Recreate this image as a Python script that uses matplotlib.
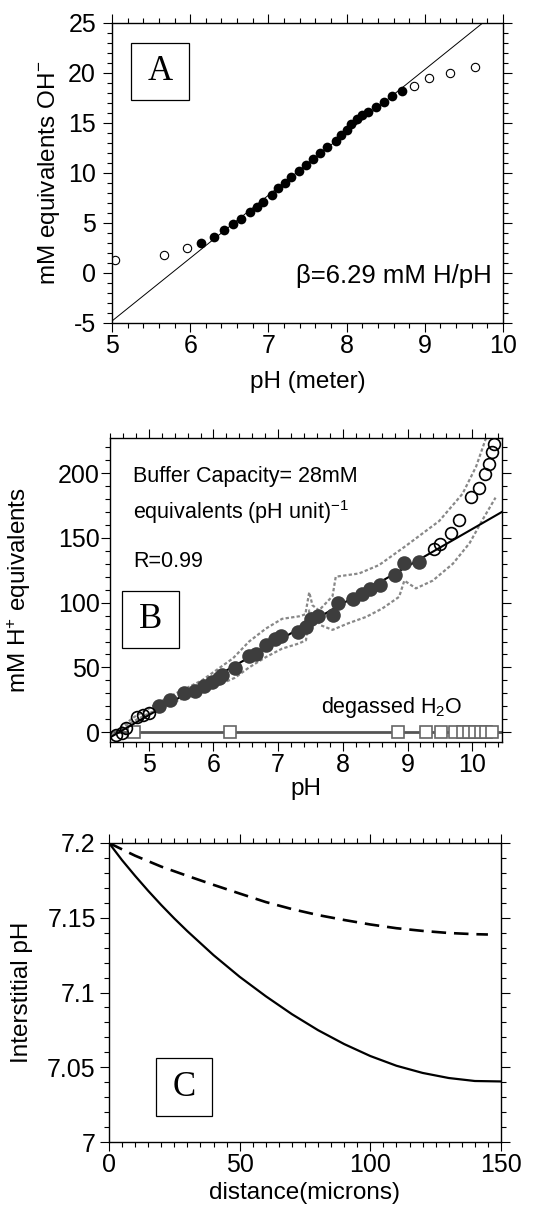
import matplotlib
matplotlib.use("Agg")
import matplotlib.pyplot as plt
import matplotlib.patches as mpatches
from matplotlib.ticker import MultipleLocator, FormatStrFormatter

plt.rcParams['font.family'] = ['Liberation Sans', 'DejaVu Sans']
plt.rcParams['mathtext.fontset'] = 'custom'
plt.rcParams['mathtext.rm'] = 'Liberation Sans'
plt.rcParams['mathtext.it'] = 'Liberation Sans:italic'
plt.rcParams['axes.unicode_minus'] = False

# ---- panel A: titration, mM OH- vs pH (meter)
a_open_x = [5.04, 5.66, 5.96, 8.86, 9.06, 9.32, 9.64]
a_open_y = [1.27, 1.77, 2.5, 18.73, 19.47, 20.03, 20.57]
a_fill_x = [6.14, 6.30, 6.43, 6.55, 6.65, 6.76, 6.85, 6.93, 7.04, 7.12, 7.21, 7.29,
            7.39, 7.48, 7.57, 7.66, 7.75, 7.86, 7.93, 8.00, 8.06, 8.13, 8.20, 8.27,
            8.37, 8.48, 8.58, 8.71]
a_fill_y = [3.0, 3.63, 4.27, 4.87, 5.43, 6.1, 6.6, 7.1, 7.83, 8.5, 9.03, 9.6,
            10.17, 10.83, 11.4, 12.0, 12.6, 13.2, 13.83, 14.33, 14.87, 15.37, 15.83, 16.1,
            16.6, 17.1, 17.67, 18.2]
a_fit_x = [5.0, 9.74]
a_fit_y = [-4.8, 25.0]

# ---- panel B: mM H+ equivalents vs pH
b_fill_x = [5.15, 5.33, 5.55, 5.71, 5.85, 5.97, 6.08, 6.13, 6.33, 6.55, 6.66, 6.81,
            6.95, 7.05, 7.30, 7.43, 7.50, 7.61, 7.84, 7.92, 8.15, 8.30, 8.42, 8.58,
            8.80, 8.95, 9.17]
b_fill_y = [20.5, 25, 30, 31.5, 35.5, 38.5, 42, 44, 49.5, 58.5, 60.5, 67.5,
            72, 74.5, 77, 81, 87.5, 89.5, 90.5, 99.5, 103, 107, 110.5, 113.5,
            121, 130.5, 131]
b_open_x = [4.49, 4.58, 4.64, 4.82, 4.91, 5.0, 9.41, 9.50, 9.67, 9.79, 9.98, 10.10,
            10.19, 10.26, 10.31, 10.34]
b_open_y = [-2, -0.8, 3.6, 12.1, 13.3, 14.6, 141, 145.6, 153.8, 164, 181.5, 188.7,
            199, 207.2, 216.2, 222.6]
b_fit_x = [4.40, 10.46]
b_fit_y = [-4.0, 170.0]
b_up_x = [4.42, 4.78, 5.30, 5.82, 6.30, 6.55, 6.81, 7.06, 7.33, 7.42, 7.48, 7.53,
          7.63, 7.84, 7.89, 8.25, 8.56, 8.98, 9.49, 9.85, 10.06, 10.22]
b_up_y = [-2, 12, 27, 40, 57, 70, 80, 87.5, 89.5, 91, 108, 98,
          94, 105, 120, 122.5, 129, 144, 163, 184, 205, 228]
b_lo_x = [4.42, 4.78, 5.30, 5.82, 6.33, 6.55, 6.81, 7.06, 7.32, 7.43, 7.48, 7.66,
          7.84, 8.08, 8.36, 8.61, 8.87, 8.95, 9.13, 9.39, 9.70, 9.96, 10.16, 10.36]
b_lo_y = [-2, 9, 22, 31, 42, 50, 58, 64.5, 68.5, 71, 94, 82.5,
          79, 84, 89, 95.5, 104.5, 117, 111, 117, 130, 146, 164, 181]
h2o_x = [4.77, 6.26, 8.85, 9.29, 9.51, 9.74, 9.85, 9.95, 10.05, 10.13, 10.21, 10.30]
h2o_y = [0] * len(h2o_x)
h2o_line_x = [4.40, 10.46]
h2o_line_y = [0, 0]

# ---- panel C: interstitial pH vs distance
c_x = [0, 5, 10, 15, 20, 25, 30, 40, 50, 60, 70, 80, 90, 100, 110, 120, 130, 140, 150]
c_solid = [7.2, 7.1885, 7.178, 7.168, 7.1585, 7.1495, 7.141, 7.125, 7.1105, 7.0975,
           7.0855, 7.0748, 7.0655, 7.0575, 7.051, 7.0462, 7.0428, 7.0408, 7.0405]
c_dash_x = [0, 10, 20, 30, 40, 50, 60, 70, 80, 90, 100, 110, 120, 130, 140, 145]
c_dash = [7.2, 7.1915, 7.1842, 7.178, 7.172, 7.1662, 7.1605, 7.1558, 7.1518, 7.1485,
          7.1455, 7.143, 7.1412, 7.1398, 7.139, 7.1388]

W, H = 535, 1220
fig = plt.figure(figsize=(W / 100, H / 100), dpi=100)


def px_axes(l, t, r, b):
    return fig.add_axes([l / W, 1 - b / H, (r - l) / W, (b - t) / H])


def style(ax, ypad):
    ax.tick_params(which='both', direction='out', top=True, right=True,
                   labelsize=18, width=0.8, colors='black')
    ax.tick_params(which='major', length=6.5, pad=1.5)
    ax.tick_params(which='minor', length=3.5)
    ax.tick_params(axis='y', which='major', pad=ypad)
    for s in ax.spines.values():
        s.set_linewidth(1.0)


def letter_box(ax, x0, y0, x1, y1, txt):
    ax.add_patch(mpatches.Rectangle((x0, y0), x1 - x0, y1 - y0, transform=ax.transAxes,
                                    fill=False, lw=0.9, ec='black', zorder=5))
    ax.text((x0 + x1) / 2, (y0 + y1) / 2, txt, transform=ax.transAxes, ha='center',
            va='center', fontsize=25, family='Liberation Serif', zorder=6)


# A
axA = px_axes(112, 23, 503, 323)
axA.plot(a_fit_x, a_fit_y, color='black', lw=0.7)
axA.plot(a_fill_x, a_fill_y, 'o', color='black', ms=7, mew=0)
axA.plot(a_open_x, a_open_y, 'o', mfc='white', mec='black', ms=6, mew=0.8)
axA.set_xlim(5, 10)
axA.set_ylim(-5, 25)
axA.xaxis.set_major_locator(MultipleLocator(1))
axA.xaxis.set_minor_locator(MultipleLocator(0.2))
axA.yaxis.set_major_locator(MultipleLocator(5))
axA.yaxis.set_minor_locator(MultipleLocator(1))
style(axA, 5)
axA.set_xlabel('pH (meter)', fontsize=17.5)
axA.set_ylabel('mM equivalents OH$^{-}$', fontsize=17.5)
axA.xaxis.set_label_coords(0.5, -0.16)
axA.yaxis.set_label_coords(-0.128, 0.5)
axA.text(0.972, 0.157, '\u03b2=6.29 mM H/pH', transform=axA.transAxes, ha='right',
         va='center', fontsize=18.5)
letter_box(axA, 0.049, 0.743, 0.197, 0.934, 'A')

# B
axB = px_axes(110, 438, 502, 742)
axB.plot(h2o_line_x, h2o_line_y, color='#555555', lw=2)
axB.plot(h2o_x, h2o_y, 's', mfc='white', mec='#666666', ms=8.5, mew=1.2)
axB.plot(b_up_x, b_up_y, color='#888888', lw=1.6, ls=(0, (1.5, 1)))
axB.plot(b_lo_x, b_lo_y, color='#888888', lw=1.6, ls=(0, (1.5, 1)))
axB.plot(b_fit_x, b_fit_y, color='black', lw=1.5)
axB.plot(b_fill_x, b_fill_y, 'o', color='#3d3d3d', ms=10.5, mew=0)
axB.plot(b_open_x, b_open_y, 'o', mfc='none', mec='black', ms=8.5, mew=1.2)
axB.set_xlim(4.4, 10.46)
axB.set_ylim(-7.5, 227)
axB.xaxis.set_major_locator(MultipleLocator(1))
axB.xaxis.set_minor_locator(MultipleLocator(0.2))
axB.yaxis.set_major_locator(MultipleLocator(50))
axB.yaxis.set_minor_locator(MultipleLocator(10))
style(axB, 1)
axB.set_xlabel('pH', fontsize=17.5)
axB.set_ylabel('mM H$^{+}$ equivalents', fontsize=17.5)
axB.xaxis.set_label_coords(0.5, -0.12)
axB.yaxis.set_label_coords(-0.196, 0.5)
axB.text(0.059, 0.873, 'Buffer Capacity= 28mM', transform=axB.transAxes, va='center',
         fontsize=15.5)
axB.text(0.059, 0.758, 'equivalents (pH unit)$^{-1}$', transform=axB.transAxes,
         va='center', fontsize=15.5)
axB.text(0.059, 0.593, 'R=0.99', transform=axB.transAxes, va='center', fontsize=15.5)
axB.text(0.90, 0.112, 'degassed H$_2$O', transform=axB.transAxes, ha='right',
         va='center', fontsize=15.5)
letter_box(axB, 0.030, 0.308, 0.176, 0.498, 'B')

# C
axC = px_axes(109, 843, 501, 1142)
axC.plot(c_x, c_solid, color='black', lw=1.6)
axC.plot(c_dash_x, c_dash, color='black', lw=1.9, ls=(0, (5.5, 3)))
axC.set_xlim(0, 150)
axC.set_ylim(7.0, 7.2)
axC.xaxis.set_major_locator(MultipleLocator(50))
axC.xaxis.set_minor_locator(MultipleLocator(5))
axC.yaxis.set_major_locator(MultipleLocator(0.05))
axC.yaxis.set_minor_locator(MultipleLocator(0.01))
axC.yaxis.set_major_formatter(FormatStrFormatter('%g'))
style(axC, 3)
axC.set_xlabel('distance(microns)', fontsize=17.5)
axC.set_ylabel('Interstitial pH', fontsize=17.5)
axC.xaxis.set_label_coords(0.5, -0.135)
axC.yaxis.set_label_coords(-0.194, 0.5)
letter_box(axC, 0.119, 0.087, 0.264, 0.280, 'C')

fig.savefig('out.png', dpi=100)
